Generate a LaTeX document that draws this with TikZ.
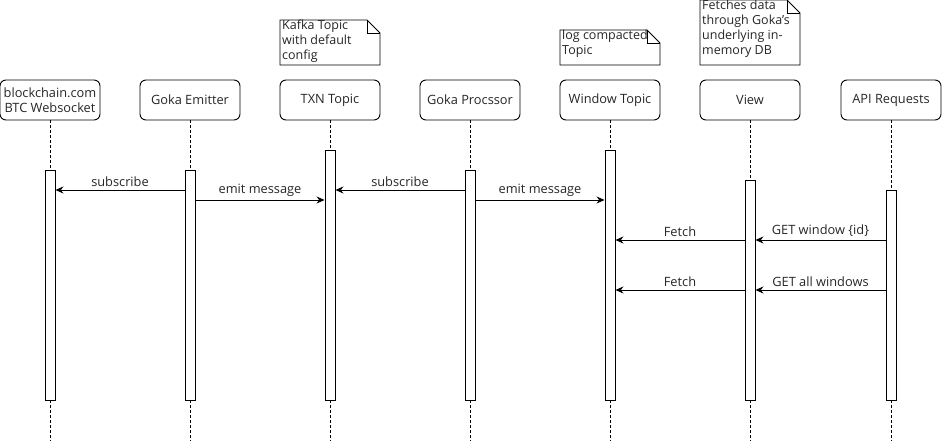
\documentclass[tikz,border=0pt]{standalone}
\usepackage{fontspec}
\setmainfont{Open Sans}
\usetikzlibrary{arrows.meta}
\begin{document}
\begin{tikzpicture}[x=1pt,y=-1pt,
  font=\fontsize{12.8}{15}\selectfont, text=black!85,
  head/.style={draw,rounded corners=6pt,line width=0.9pt,minimum width=100pt,minimum height=40pt,align=center,inner sep=1pt},
  act/.style={draw,fill=white,line width=0.9pt,minimum width=10pt,inner sep=0pt,anchor=north},
  life/.style={densely dashed,line width=0.8pt},
  msg/.style={line width=0.9pt,-{Stealth[length=8pt,width=7pt]}},
  lbl/.style={midway,above,inner sep=3pt},
  notetxt/.style={anchor=north west,align=left,inner sep=1pt,font=\fontsize{12.5}{15}\selectfont}
]
\useasboundingbox (0,0) rectangle (942,441);

% headers
\node[head] (h1) at (50,100) {blockchain.com\\BTC Websocket};
\node[head] (h2) at (190,100) {Goka Emitter};
\node[head] (h3) at (330,100) {TXN Topic};
\node[head] (h4) at (470,100) {Goka Procssor};
\node[head] (h5) at (610,100) {Window Topic};
\node[head] (h6) at (750,100) {View};
\node[head] (h7) at (891,100) {API Requests};

% lifelines
\foreach \i/\x in {1/50,2/190,3/330,4/470,5/610,6/750,7/891}{
  \coordinate (e\i) at (\x,441);
  \draw[life] (h\i.south) -- (e\i);
}

% activations
\node[act,minimum height=230pt] (a1) at (50,170) {};
\node[act,minimum height=230pt] (a2) at (190,170) {};
\node[act,minimum height=250pt] (a3) at (330,150) {};
\node[act,minimum height=230pt] (a4) at (470,170) {};
\node[act,minimum height=250pt] (a5) at (610,150) {};
\node[act,minimum height=220pt] (a6) at (750,180) {};
\node[act,minimum height=210pt] (a7) at (891,190) {};

% messages
\draw[msg] (a2.west |- 0,190) -- node[lbl]{subscribe} (a1.east |- 0,190);
\draw[msg] (a2.east |- 0,200) -- node[lbl]{emit message} (a3.west |- 0,200);
\draw[msg] (a4.west |- 0,190) -- node[lbl]{subscribe} (a3.east |- 0,190);
\draw[msg] (a4.east |- 0,200) -- node[lbl]{emit message} (a5.west |- 0,200);
\draw[msg] (a7.west |- 0,240) -- node[lbl]{GET window \{id\}} (a6.east |- 0,240);
\draw[msg] (a6.west |- 0,240) -- node[lbl]{Fetch} (a5.east |- 0,240);
\draw[msg] (a7.west |- 0,290) -- node[lbl]{GET all windows} (a6.east |- 0,290);
\draw[msg] (a6.west |- 0,290) -- node[lbl]{Fetch} (a5.east |- 0,290);

% notes
\foreach \n/\x/\y in {n1/280/20, n2/560/30, n3/700/0}{
  \draw[line width=0.8pt,fill=white] (\x,\y) -- (\x+87,\y) -- (\x+100,\y+13) -- (\x+100,65) -- (\x,65) -- cycle;
  \draw[line width=0.8pt] (\x+87,\y) -- (\x+87,\y+13) -- (\x+100,\y+13);
}
\node[notetxt] (t1) at (281,19) {Kafka Topic\\with default\\config};
\node[notetxt] (t2) at (561,29) {log compacted\\Topic};
\node[notetxt] (t3) at (701,-1) {Fetches data\\through Goka's\\underlying in-\\memory DB};
\end{tikzpicture}
\end{document}
